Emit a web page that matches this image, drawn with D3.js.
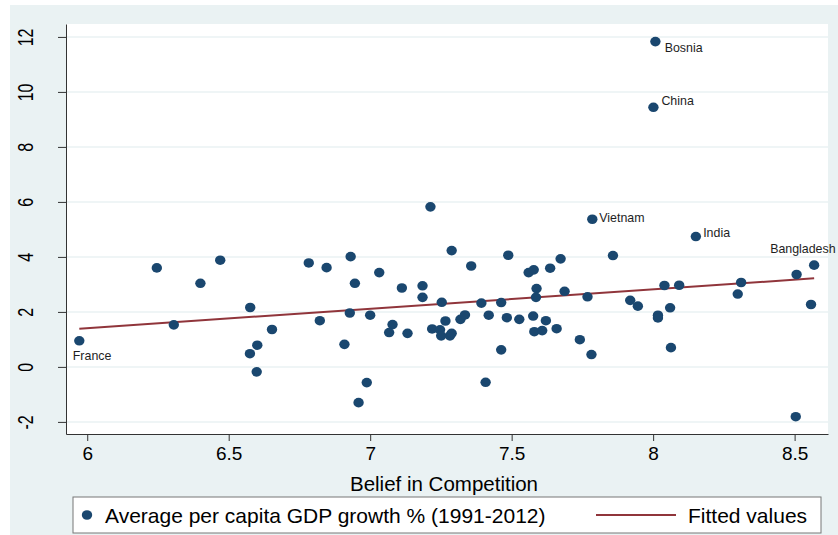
<!DOCTYPE html>
<html>
<head>
<meta charset="utf-8">
<script src="https://cdn.jsdelivr.net/npm/d3@7"></script>
<style>
  body { margin: 0; background: #fff; }
  text { font-family: "Liberation Sans", Arial, sans-serif; }
</style>
</head>
<body>
<div id="chart"></div>
<script>
// Data
const belief = [5.972, 6.246, 6.306, 6.400, 6.470, 6.576, 6.575, 6.601, 6.599, 6.653,
  6.783, 6.846, 6.931, 6.946, 7.032, 7.112, 7.185, 7.185, 7.213, 7.288,
  7.357, 7.488, 7.560, 7.578, 7.636, 7.673, 6.822, 6.928, 7.000, 6.909,
  7.079, 7.067, 7.132, 7.253, 7.219, 7.247, 7.266, 7.251, 7.282, 7.288,
  7.319, 7.335, 7.393, 7.419, 7.463, 7.483, 7.527, 7.576, 7.588, 7.586,
  7.580, 7.608, 7.621, 7.463, 6.988, 6.959, 7.408, 7.785, 8.151, 7.858,
  8.569, 8.507, 7.687, 7.768, 7.919, 7.946, 8.040, 8.092, 8.311, 8.299,
  8.558, 8.017, 8.017, 8.060, 8.063, 7.659, 7.741, 7.782, 8.504, 8.008, 8.001];
const growth = [0.95, 3.60, 1.53, 3.04, 3.88, 2.16, 0.48, 0.79, -0.18, 1.36,
  3.78, 3.61, 4.01, 3.04, 3.43, 2.87, 2.95, 2.53, 5.82, 4.23,
  3.67, 4.06, 3.43, 3.53, 3.59, 3.93, 1.68, 1.96, 1.88, 0.82,
  1.54, 1.25, 1.22, 2.35, 1.38, 1.35, 1.67, 1.13, 1.13, 1.22,
  1.73, 1.89, 2.32, 1.88, 2.34, 1.79, 1.73, 1.85, 2.85, 2.53,
  1.28, 1.32, 1.68, 0.62, -0.57, -1.30, -0.56, 5.37, 4.74, 4.05,
  3.70, 3.36, 2.75, 2.55, 2.42, 2.21, 2.96, 2.97, 3.07, 2.65,
  2.27, 1.88, 1.78, 2.15, 0.70, 1.39, 0.99, 0.45, -1.81, 11.83, 9.44];
const country = {0: "France", 57: "Vietnam", 58: "India", 60: "Bangladesh", 79: "Bosnia", 80: "China"};

const fitX = [5.972, 8.569];
const fitY = [1.39, 3.22];

const xTicks = [6, 6.5, 7, 7.5, 8, 8.5];
const yTicks = [-2, 0, 2, 4, 6, 8, 10, 12];

const xTitle = "Belief in Competition";
const legendLabels = ["Average per capita GDP growth % (1991-2012)", "Fitted values"];

const data = belief.map((b, i) => ({x: b, y: growth[i], name: country[i] || ""}));

const W = 838, H = 535;
const plot = {left: 66, right: 828, top: 24, bottom: 434};
const dotColor = "#1a476f", fitColor = "#90353b", bg = "#eaf2f3";

const svg = d3.select("#chart").append("svg")
    .attr("width", W)
    .attr("height", H);

// outer graph region
svg.append("rect").attr("x", 10).attr("y", 5).attr("width", W - 10).attr("height", H - 5).attr("fill", bg);
svg.append("rect").attr("x", plot.left).attr("y", plot.top)
    .attr("width", plot.right - plot.left).attr("height", plot.bottom - plot.top).attr("fill", "#fff");

const x = d3.scaleLinear().domain([5.925, 8.618]).range([plot.left, plot.right]);
const y = d3.scaleLinear().domain([-2.44, 12.47]).range([plot.bottom, plot.top]);

// grid lines
svg.append("g").selectAll("line")
    .data(yTicks)
    .enter().append("line")
    .attr("x1", plot.left).attr("x2", plot.right)
    .attr("y1", d => y(d)).attr("y2", d => y(d))
    .attr("stroke", bg).attr("stroke-width", 1.5);

// x axis
const gx = svg.append("g")
    .attr("transform", `translate(0,${plot.bottom})`)
    .call(d3.axisBottom(x).tickValues(xTicks).tickSize(7).tickSizeOuter(0).tickFormat(d => d));
gx.select(".domain").attr("stroke", "#333");
gx.selectAll(".tick line").attr("stroke", "#333");
gx.selectAll(".tick text").attr("y", 13).attr("dy", "0.71em")
    .style("font-size", "19px").attr("fill", "#000").style("font-family", "Liberation Sans, Arial, sans-serif");

// y axis
const gy = svg.append("g")
    .attr("transform", `translate(${plot.left},0)`)
    .call(d3.axisLeft(y).tickValues(yTicks).tickSize(8).tickSizeOuter(0).tickFormat(d => d));
gy.select(".domain").attr("stroke", "#333");
gy.selectAll(".tick line").attr("stroke", "#333");
gy.selectAll(".tick text").remove();
gy.selectAll(".tick").append("text")
    .attr("transform", "translate(-33.5,0) rotate(-90) scale(1,1.4)")
    .attr("text-anchor", "middle")
    .attr("fill", "#000")
    .style("font-size", "16px")
    .text(d => d);

// fitted line
svg.append("path")
    .datum(fitX.map((v, i) => [v, fitY[i]]))
    .attr("fill", "none")
    .attr("stroke", fitColor)
    .attr("stroke-width", 2)
    .attr("d", d3.line().x(d => x(d[0])).y(d => y(d[1])));

// dots
svg.selectAll(".dot")
    .data(data)
    .enter().append("ellipse")
    .attr("class", "dot")
    .attr("cx", d => x(d.x))
    .attr("cy", d => y(d.y))
    .attr("rx", 5.2)
    .attr("ry", 4.8)
    .attr("fill", dotColor);

// country labels (offsets relative to the dot)
const labelOffset = {
  France: [-6.5, 19], Vietnam: [7, 2.4], India: [7.3, 0],
  Bangladesh: [-44, -12], Bosnia: [9.3, 10], China: [8, -2.3]
};
svg.selectAll(".lbl")
    .data(data.filter(d => d.name))
    .enter().append("text")
    .attr("class", "lbl")
    .attr("x", d => x(d.x) + labelOffset[d.name][0])
    .attr("y", d => y(d.y) + labelOffset[d.name][1])
    .attr("fill", "#1e1e1e")
    .style("font-size", "12.4px")
    .text(d => d.name);

// x title
svg.append("text")
    .attr("x", (plot.left + plot.right) / 2 - 3)
    .attr("y", 491)
    .attr("text-anchor", "middle")
    .style("font-size", "20.5px")
    .text(xTitle);

// legend
const lg = svg.append("g");
lg.append("rect").attr("x", 73).attr("y", 497).attr("width", 748).attr("height", 36)
    .attr("fill", "#fff").attr("stroke", "#777").attr("stroke-width", 1);
lg.append("ellipse").attr("cx", 87).attr("cy", 515).attr("rx", 5.2).attr("ry", 4.8).attr("fill", dotColor);
lg.append("text").attr("x", 105).attr("y", 522.5).style("font-size", "21px").text(legendLabels[0]);
lg.append("line").attr("x1", 596).attr("x2", 676).attr("y1", 515).attr("y2", 515)
    .attr("stroke", fitColor).attr("stroke-width", 2);
lg.append("text").attr("x", 688).attr("y", 522.5).style("font-size", "21px").text(legendLabels[1]);
</script>
</body>
</html>
